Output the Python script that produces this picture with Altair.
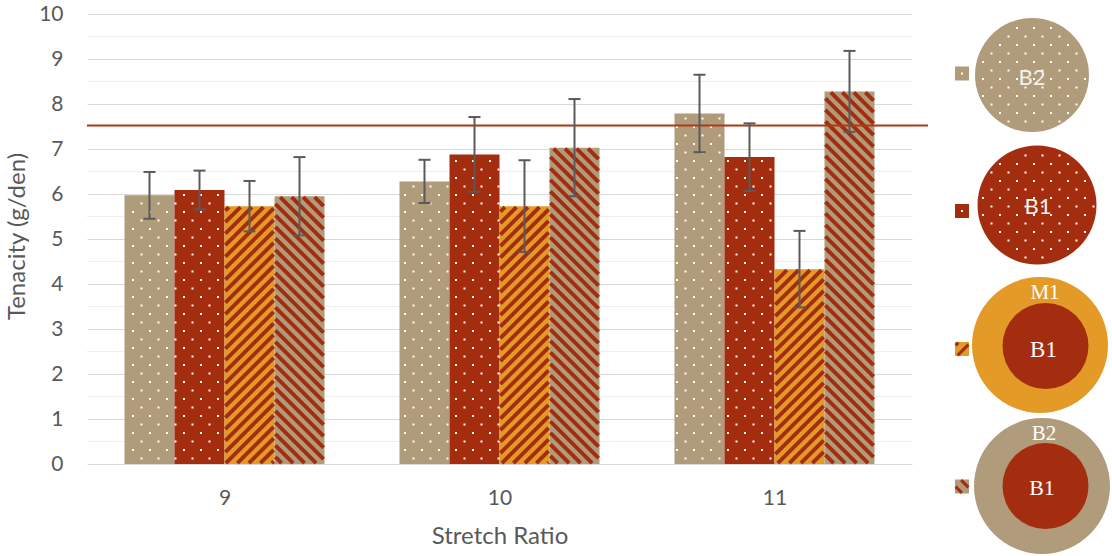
import altair as alt
import numpy as np
import pandas as pd

# ---- data ---------------------------------------------------------------
RATIOS = ["9", "10", "11"]
SERIES = ["B2", "B1", "M1/B1", "B2/B1"]

B2 = [5.97, 6.28, 7.79]
B1 = [6.09, 6.88, 6.82]
M1_B1 = [5.73, 5.73, 4.33]
B2_B1 = [5.95, 7.03, 8.28]

B2_SD = [0.52, 0.48, 0.86]
B1_SD = [0.43, 0.83, 0.75]
M1_B1_SD = [0.56, 1.02, 0.85]
B2_B1_SD = [0.87, 1.08, 0.90]

TARGET = 7.52
Y_TICKS = [0, 1, 2, 3, 4, 5, 6, 7, 8, 9, 10]

# ---- style --------------------------------------------------------------
TAN = "#B09B7B"
RED = "#A42D10"
ORANGE = "#E39A27"
TEXT_GREY = "#595959"
ERR_GREY = "#5A5A5A"
GRID = "#D9D9D9"
GRID_MINOR = "#EEEEEE"
LINE_RED = "#B03A14"
FONT = "Lato"
SERIF = "Liberation Serif"

FILL = {"B2": TAN, "B1": RED, "M1/B1": ORANGE, "B2/B1": TAN}
TEXTURE = {"B2": "dots", "B1": "dots", "M1/B1": "up", "B2/B1": "down"}

W, H = 825, 450
SLOT, GAP, BAR = 5.5, 0.75, 1.0          # x units per ratio group / outer gap / bar
X_MAX = SLOT * len(RATIOS)
Y_MAX = 10
PX_X = W / X_MAX
PX_Y = H / Y_MAX
DOT_STEP = 8.5
STRIPE_PERIOD = 11.5
CAP = 6 / PX_X

xs = alt.Scale(domain=[0, X_MAX], nice=False, zero=False)
ys = alt.Scale(domain=[0, Y_MAX], nice=False)


def lattice(u0, u1, w0, w1, step=DOT_STEP, ou=3.5, ow=5.5):
    """Staggered dot grid covering a box (pixel units)."""
    pts = []
    for i in range(int(np.ceil((w0 - ow) / step)), int(np.floor((w1 - ow) / step)) + 1):
        for j in range(int(np.ceil((u0 - ou) / step)), int(np.floor((u1 - ou) / step)) + 1):
            if (i + j) % 2 == 0:
                pts.append((ou + j * step, ow + i * step))
    return pts


def stripes(l, r, b, t, kind, period=STRIPE_PERIOD, inset=0.9):
    """45-degree hatch segments clipped to a box (pixel units, w upward)."""
    l, r, b, t = l + inset, r - inset, b + inset, t - inset
    segs = []
    lo, hi = (b - r, t - l) if kind == "up" else (l + b, r + t)
    for k in range(int(np.floor(lo / period)), int(np.ceil(hi / period)) + 1):
        c = k * period
        if kind == "up":
            a, z = max(l, b - c), min(r, t - c)
            if z - a > 0.3:
                segs.append((a, a + c, z, z + c))
        else:
            a, z = max(l, c - t), min(r, c - b)
            if z - a > 0.3:
                segs.append((a, c - a, z, c - z))
    return segs


values = {"B2": B2, "B1": B1, "M1/B1": M1_B1, "B2/B1": B2_B1}
sds = {"B2": B2_SD, "B1": B1_SD, "M1/B1": M1_B1_SD, "B2/B1": B2_B1_SD}

rows = []
for g, ratio in enumerate(RATIOS):
    for s, name in enumerate(SERIES):
        x0 = g * SLOT + GAP + s * BAR
        v, e = values[name][g], sds[name][g]
        rows.append(dict(ratio=ratio, series=name, x0=x0, x1=x0 + BAR,
                         mid=x0 + BAR / 2, value=v, zero=0.0,
                         lo=v - e, hi=v + e))
bars = pd.DataFrame(rows)

dot_rows, seg_rows = [], []
for r in rows:
    left, right, top = r["x0"] * PX_X, r["x1"] * PX_X, r["value"] * PX_Y
    kind = TEXTURE[r["series"]]
    if kind == "dots":
        for u, w in lattice(left + 1, right - 1, 1.5, top - 1.5):
            dot_rows.append({"x": u / PX_X, "y": w / PX_Y})
    else:
        for u0, w0, u1, w1 in stripes(left, right, 0, top, kind):
            seg_rows.append({"x": u0 / PX_X, "y": w0 / PX_Y,
                             "x2": u1 / PX_X, "y2": w1 / PX_Y})
dots = pd.DataFrame(dot_rows)
segs = pd.DataFrame(seg_rows)

caps = pd.concat([
    bars.assign(y=bars["lo"]), bars.assign(y=bars["hi"])
])[["mid", "y"]]
caps["xa"] = caps["mid"] - CAP
caps["xb"] = caps["mid"] + CAP

centers = [g * SLOT + SLOT / 2 for g in range(len(RATIOS))]
label_expr = "[" + ",".join(f"'{t}'" for t in RATIOS) + f"][round((datum.value - {centers[0]}) / {SLOT})]"

x_axis = alt.Axis(values=centers, labelExpr=label_expr, title="Stretch Ratio",
                  grid=False, domain=False, ticks=False, tickSize=0,
                  labelPadding=40, labelBaseline="alphabetic",
                  labelFont=FONT, labelFontSize=21, labelColor=TEXT_GREY,
                  titleFont=FONT, titleFontSize=24, titleFontWeight="normal",
                  titleColor=TEXT_GREY, titleX=W / 2, titleY=79,
                  titleAlign="center", titleBaseline="alphabetic")
y_axis = alt.Axis(values=Y_TICKS, title="Tenacity (g/den)", grid=True,
                  gridColor=GRID, gridWidth=1, domain=False, ticks=False,
                  tickSize=0, labelPadding=24, labelFont=FONT,
                  labelFontSize=21, labelColor=TEXT_GREY,
                  titleFont=FONT, titleFontSize=24, titleFontWeight="normal",
                  titleColor=TEXT_GREY, titleAngle=270, titleAlign="center",
                  titleBaseline="middle", titleX=-70, titleY=222)


def X(field):
    return alt.X(field, scale=xs, axis=x_axis)


def Y(field):
    return alt.Y(field, scale=ys, axis=y_axis)


minor = alt.Chart(pd.DataFrame({"v": [t + 0.5 for t in Y_TICKS[:-1]]})).mark_rule(
    color=GRID_MINOR, strokeWidth=1
).encode(y=Y("v:Q"))

bar_layer = alt.Chart(bars).mark_rect().encode(
    x=X("x0:Q"), x2="x1:Q",
    y=Y("value:Q"), y2="zero:Q",
    color=alt.Color("series:N", scale=alt.Scale(domain=SERIES, range=[FILL[s] for s in SERIES]),
                    legend=None),
)

dot_layer = alt.Chart(dots).mark_square(size=4, color="white", opacity=1).encode(
    x=X("x:Q"), y=Y("y:Q")
)

hatch_layer = alt.Chart(segs).mark_rule(color=RED, strokeWidth=3.9, strokeCap="butt").encode(
    x=X("x:Q"), y=Y("y:Q"), x2="x2:Q", y2="y2:Q"
)

target = alt.Chart(pd.DataFrame({"target": [TARGET]})).mark_rule(
    color=LINE_RED, strokeWidth=2
).encode(y=Y("target:Q"), x=alt.value(0), x2=alt.value(W + 16))

stems = alt.Chart(bars).mark_rule(color=ERR_GREY, strokeWidth=2).encode(
    x=X("mid:Q"), y=Y("lo:Q"), y2="hi:Q"
)
cap_layer = alt.Chart(caps).mark_rule(color=ERR_GREY, strokeWidth=2).encode(
    x=X("xa:Q"), x2="xb:Q", y=Y("y:Q")
)

plot = alt.layer(minor, bar_layer, dot_layer, hatch_layer, target, stems, cap_layer)

# ---- legend (pixel positions relative to the plot origin) ----------------
SQ_X, SQ_YS, SQ = 875, [59.5, 197, 335, 472.5], 14
circles = pd.DataFrame([
    {"x": 945, "y": 61, "d": 114, "fill": TAN},
    {"x": 950, "y": 191, "d": 119, "fill": RED},
    {"x": 953, "y": 331, "d": 136, "fill": ORANGE},
    {"x": 958.5, "y": 332, "d": 86, "fill": RED},
    {"x": 955, "y": 472, "d": 136, "fill": TAN},
    {"x": 958.5, "y": 472, "d": 86, "fill": RED},
])
circles["area"] = circles["d"] ** 2

leg_dots = []
for i in (0, 1):
    cx, cy, rad = circles.loc[i, "x"], circles.loc[i, "y"], circles.loc[i, "d"] / 2
    for u, v in lattice(cx - rad, cx + rad, cy - rad, cy + rad):
        if (u - cx) ** 2 + (v - cy) ** 2 <= (rad - 2.5) ** 2:
            leg_dots.append({"x": u, "y": v})

squares = pd.DataFrame({"x": [SQ_X] * 4, "y": SQ_YS, "fill": [FILL[s] for s in SERIES]})
sq_segs = []
for s, cy in zip(SERIES, SQ_YS):
    kind = TEXTURE[s]
    if kind == "dots":
        for u, v in lattice(SQ_X - 5, SQ_X + 5, cy - 5, cy + 5, ou=SQ_X, ow=cy):
            leg_dots.append({"x": u, "y": v})
    else:
        for u0, w0, u1, w1 in stripes(SQ_X - SQ / 2, SQ_X + SQ / 2, -(cy + SQ / 2), -(cy - SQ / 2),
                                      kind, period=12, inset=0.6):
            sq_segs.append({"x": u0, "y": -w0, "x2": u1, "y2": -w1})
leg_dots = pd.DataFrame(leg_dots)
sq_segs = pd.DataFrame(sq_segs)

sans_text = pd.DataFrame([
    {"x": 945, "y": 63.5, "label": "B2"},
    {"x": 951, "y": 193, "label": "B1"},
])
serif_text = pd.DataFrame([
    {"x": 958, "y": 278.5, "label": "M1", "fs": 21},
    {"x": 956.5, "y": 335.5, "label": "B1", "fs": 23},
    {"x": 957, "y": 419.5, "label": "B2", "fs": 21},
    {"x": 955, "y": 473.5, "label": "B1", "fs": 22},
])


def PX(field):
    return alt.X(field, scale=None, axis=None)


def PY(field):
    return alt.Y(field, scale=None, axis=None)


leg_circles = alt.Chart(circles).mark_point(shape="circle", filled=True, opacity=1, strokeWidth=0).encode(
    x=PX("x:Q"), y=PY("y:Q"), size=alt.Size("area:Q", scale=None),
    color=alt.Color("fill:N", scale=None)
)
leg_squares = alt.Chart(squares).mark_square(size=SQ * SQ, opacity=1).encode(
    x=PX("x:Q"), y=PY("y:Q"), color=alt.Color("fill:N", scale=None)
)
leg_dot_layer = alt.Chart(leg_dots).mark_square(size=4, color="white", opacity=1).encode(
    x=PX("x:Q"), y=PY("y:Q")
)
leg_hatch = alt.Chart(sq_segs).mark_rule(color=RED, strokeWidth=3, strokeCap="butt").encode(
    x=PX("x:Q"), y=PY("y:Q"), x2="x2:Q", y2="y2:Q"
)
leg_sans = alt.Chart(sans_text).mark_text(font=FONT, fontSize=22, color="#F4F0EC",
                                          baseline="middle", align="center").encode(
    x=PX("x:Q"), y=PY("y:Q"), text="label:N"
)
leg_serif = alt.Chart(serif_text).mark_text(font=SERIF, color="white",
                                            baseline="middle", align="center").encode(
    x=PX("x:Q"), y=PY("y:Q"), text="label:N", size=alt.Size("fs:Q", scale=None)
)

legend = alt.layer(leg_circles, leg_squares, leg_dot_layer, leg_hatch, leg_sans, leg_serif)

chart = alt.layer(plot, legend).resolve_scale(
    x="independent", y="independent", color="independent", size="independent"
).resolve_axis(x="independent", y="independent").properties(
    width=W, height=H,
    autosize=alt.AutoSizeParams(type="none"),
    padding={"left": 87, "top": 14, "right": 200, "bottom": 92},
).configure_view(strokeWidth=0)

chart.save("out.html", embed_options={"renderer": "svg", "actions": False})
